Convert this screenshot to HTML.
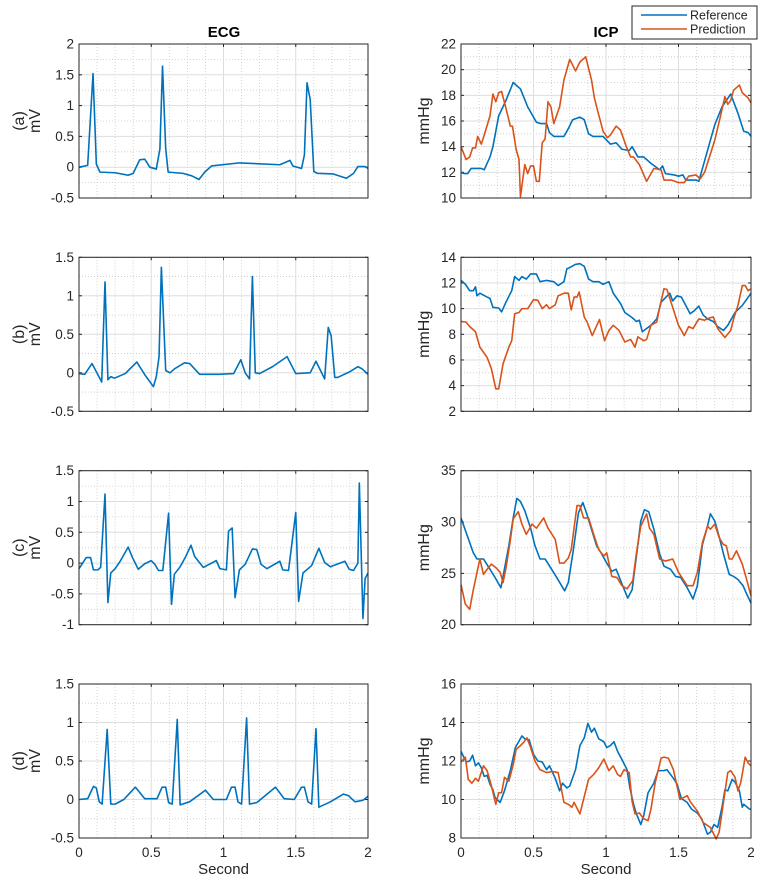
<!DOCTYPE html>
<html><head><meta charset="utf-8"><style>
html,body{margin:0;padding:0;background:#fff;}
svg{display:block;font-family:"Liberation Sans",Arial,sans-serif;}
</style></head><body>
<svg id="fig" width="769" height="884" viewBox="0 0 769 884" xmlns="http://www.w3.org/2000/svg"></svg>
<script>
// ---------- data ----------
const xTickLabels = ["0","0.5","1","1.5","2"];
const xTickValues = [0,0.5,1,1.5,2];

const ecgATime = [0,0.06,0.097,0.12,0.145,0.25,0.34,0.375,0.42,0.455,0.49,0.535,0.56,0.578,0.6,0.617,0.72,0.78,0.83,0.87,0.917,1.11,1.39,1.46,1.48,1.54,1.56,1.578,1.6,1.625,1.65,1.76,1.85,1.9,1.93,1.98,2];
const ecgAVal  = [0,0.03,1.52,0.05,-0.08,-0.09,-0.13,-0.1,0.12,0.13,0.0,-0.03,0.3,1.64,0.3,-0.08,-0.1,-0.14,-0.2,-0.08,0.02,0.07,0.04,0.11,0.02,-0.02,0.2,1.37,1.1,-0.07,-0.1,-0.11,-0.18,-0.1,0.01,0.01,-0.02];

const ecgBTime = [0,0.04,0.09,0.127,0.157,0.18,0.2,0.22,0.245,0.32,0.4,0.457,0.515,0.535,0.554,0.57,0.6,0.63,0.66,0.73,0.766,0.835,0.89,0.97,1.07,1.12,1.15,1.18,1.2,1.22,1.25,1.34,1.44,1.5,1.6,1.64,1.7,1.725,1.745,1.77,1.79,1.87,1.93,1.96,2];
const ecgBVal  = [-0.01,-0.02,0.12,-0.01,-0.12,1.18,-0.09,-0.05,-0.07,-0.01,0.14,-0.03,-0.18,-0.05,0.21,1.37,0.03,0,0.05,0.13,0.12,-0.02,-0.02,-0.02,-0.01,0.17,0,-0.08,1.25,0,-0.01,0.08,0.21,-0.01,0,0.15,-0.08,0.59,0.48,-0.06,-0.06,0.01,0.08,0.05,-0.02];

const ecgCTime = [0.0,0.05,0.08,0.1,0.13,0.15,0.18,0.2,0.22,0.25,0.285,0.34,0.37,0.41,0.455,0.5,0.525,0.55,0.58,0.62,0.64,0.66,0.7,0.735,0.775,0.8,0.86,0.95,0.975,1.02,1.035,1.06,1.08,1.11,1.15,1.2,1.23,1.26,1.3,1.39,1.41,1.45,1.5,1.52,1.55,1.61,1.66,1.7,1.74,1.84,1.87,1.9,1.93,1.94,1.965,1.98,2];
const ecgCVal  = [-0.09,0.09,0.09,-0.11,-0.11,-0.07,1.12,-0.64,-0.16,-0.09,0.03,0.26,0.09,-0.1,-0.01,0.04,-0.02,-0.12,-0.12,0.81,-0.67,-0.18,-0.06,0.09,0.29,0.11,-0.07,0.04,-0.09,-0.11,0.52,0.57,-0.56,-0.11,-0.02,0.23,0.22,-0.02,-0.09,0.03,-0.11,-0.12,0.82,-0.62,-0.16,-0.04,0.24,0.01,-0.06,0.03,-0.1,-0.12,0,1.3,-0.9,-0.25,-0.16];

const ecgDTime = [0,0.06,0.1,0.12,0.14,0.16,0.195,0.22,0.25,0.31,0.39,0.455,0.54,0.575,0.6,0.62,0.645,0.68,0.7,0.765,0.875,0.93,1.02,1.055,1.08,1.1,1.125,1.16,1.18,1.23,1.36,1.42,1.49,1.54,1.56,1.585,1.61,1.64,1.66,1.74,1.83,1.865,1.91,1.965,2];
const ecgDVal  = [0,0.01,0.17,0.15,-0.03,-0.06,0.91,-0.06,-0.06,0,0.16,0.01,0.01,0.16,0.16,-0.04,-0.06,1.04,-0.07,-0.03,0.12,0,0,0.16,0.16,-0.03,-0.06,1.06,-0.06,-0.04,0.16,0.01,0,0.16,0.16,-0.03,-0.06,0.92,-0.1,-0.03,0.07,0.05,-0.03,-0.01,0.04];

const icpARefTime = [0,0.023,0.046,0.07,0.14,0.16,0.2,0.22,0.26,0.31,0.36,0.39,0.41,0.46,0.52,0.55,0.59,0.61,0.64,0.71,0.74,0.77,0.82,0.85,0.88,0.91,0.98,1.03,1.07,1.11,1.16,1.18,1.22,1.26,1.31,1.37,1.39,1.41,1.47,1.5,1.53,1.55,1.62,1.64,1.68,1.75,1.8,1.86,1.91,1.95,1.98,2];
const icpARefVal  = [12.0,11.9,11.9,12.3,12.3,12.2,13.2,14.0,16.4,17.6,19.0,18.7,18.5,17.1,15.9,15.8,15.8,15.1,14.8,14.8,15.4,16.1,16.3,16.1,15.0,14.8,14.8,14.2,14.3,13.8,13.7,14.0,13.2,13.2,12.7,12.2,12.5,11.9,11.8,11.7,11.8,11.4,11.4,11.3,12.9,15.7,17.1,18.1,16.6,15.2,15.1,14.8];
const icpAPredTime = [0,0.035,0.06,0.08,0.1,0.115,0.14,0.16,0.2,0.22,0.24,0.26,0.28,0.31,0.34,0.355,0.38,0.4,0.41,0.44,0.46,0.48,0.5,0.52,0.54,0.56,0.58,0.6,0.62,0.64,0.68,0.71,0.75,0.79,0.82,0.86,0.9,0.92,0.94,0.98,1.01,1.03,1.07,1.1,1.14,1.17,1.19,1.23,1.28,1.31,1.33,1.38,1.4,1.45,1.5,1.54,1.57,1.62,1.65,1.68,1.75,1.79,1.82,1.84,1.86,1.88,1.92,1.94,1.98,2];
const icpAPredVal  = [14.0,13.0,13.2,13.9,13.9,14.8,14.2,14.9,16.4,18.1,17.5,18.2,18.3,17.0,15.6,15.6,13.8,13.0,10.1,12.6,11.9,12.5,12.5,11.3,11.3,14.3,14.6,17.5,17.1,15.8,17.1,19.2,20.8,19.9,20.6,21.0,19.2,17.8,16.9,15.2,14.7,14.9,15.6,15.3,14.0,13.2,13.2,12.6,11.3,11.9,12.3,12.2,11.4,11.4,11.2,11.2,11.7,11.8,11.5,12.0,14.5,16.4,17.9,17.3,17.6,18.4,18.8,18.2,17.8,17.4];

const icpBRefTime = [0,0.03,0.06,0.085,0.1,0.11,0.13,0.18,0.2,0.22,0.26,0.28,0.31,0.35,0.37,0.4,0.42,0.45,0.48,0.52,0.545,0.59,0.64,0.67,0.71,0.73,0.75,0.79,0.82,0.85,0.88,0.91,0.95,0.98,1.02,1.05,1.1,1.13,1.18,1.21,1.23,1.25,1.28,1.31,1.35,1.38,1.44,1.46,1.49,1.52,1.55,1.58,1.61,1.64,1.67,1.7,1.74,1.77,1.81,1.84,1.89,1.94,2];
const icpBRefVal  = [12.2,11.9,11.4,11.4,11.7,11.0,11.2,10.9,10.8,10.1,10.05,9.75,10.5,11.4,12.5,12.2,12.5,12.3,12.7,12.7,12.1,12.2,12.1,11.8,12.1,13.1,13.2,13.45,13.5,13.3,12.3,12.1,12.1,11.9,12.1,11.2,10.4,9.7,9.3,9.0,9.1,8.2,8.45,8.7,9.2,10.5,11.2,10.6,11.0,10.9,10.25,9.6,9.85,10.2,9.5,9.2,9.0,8.6,8.3,8.7,9.7,10.25,11.2];
const icpBPredTime = [0,0.035,0.06,0.1,0.13,0.18,0.21,0.24,0.26,0.29,0.33,0.35,0.37,0.4,0.42,0.46,0.5,0.53,0.56,0.59,0.61,0.65,0.67,0.71,0.74,0.76,0.78,0.8,0.815,0.85,0.87,0.905,0.955,0.99,1.02,1.05,1.09,1.13,1.17,1.2,1.22,1.26,1.28,1.31,1.35,1.37,1.4,1.42,1.46,1.5,1.54,1.57,1.6,1.64,1.68,1.72,1.74,1.77,1.82,1.86,1.88,1.91,1.94,1.96,1.98,2];
const icpBPredVal  = [9.0,8.95,8.6,8.2,7.0,6.2,5.3,3.75,3.75,5.7,7.0,7.5,9.6,9.7,10.0,10.0,10.7,10.65,10.0,10.3,10.0,10.3,11.0,11.2,11.2,9.9,10.9,10.9,11.3,9.35,8.95,7.9,9.15,7.5,8.3,8.7,8.3,7.4,7.6,7.0,7.8,7.5,7.6,8.7,8.95,10.1,11.55,11.5,10.1,8.7,7.9,8.6,8.45,9.2,9.1,9.3,9.35,8.45,7.75,8.3,9.2,10.25,11.8,11.8,11.4,11.55];

const icpCRefTime = [0,0.04,0.085,0.11,0.155,0.2,0.235,0.275,0.29,0.33,0.36,0.385,0.41,0.44,0.48,0.51,0.545,0.58,0.625,0.66,0.715,0.74,0.775,0.81,0.84,0.865,0.9,0.935,0.97,1.005,1.04,1.07,1.115,1.15,1.18,1.21,1.24,1.265,1.295,1.33,1.37,1.4,1.445,1.48,1.515,1.56,1.6,1.63,1.665,1.7,1.72,1.75,1.78,1.81,1.85,1.88,1.91,1.945,1.97,2];
const icpCRefVal  = [30.4,28.8,27.0,26.4,26.4,25.4,24.6,23.6,24.7,27.7,30.4,32.3,32.0,31.1,29.4,27.7,26.4,26.4,25.4,24.6,23.3,24.1,27.3,30.9,31.9,30.9,29.3,27.7,26.9,26.0,25.2,25.4,23.8,22.6,23.4,26.7,30.1,31.2,31.0,29.3,26.9,25.7,25.4,24.7,24.6,23.6,22.5,23.8,27.8,29.6,30.8,30.1,28.6,26.9,24.9,24.7,24.4,23.8,23.0,22.1];
const icpCPredTime = [0,0.03,0.06,0.085,0.13,0.155,0.18,0.21,0.245,0.27,0.29,0.31,0.34,0.36,0.395,0.42,0.45,0.49,0.52,0.57,0.6,0.65,0.68,0.71,0.74,0.76,0.8,0.82,0.845,0.88,0.915,0.95,0.985,1.005,1.04,1.075,1.11,1.145,1.185,1.21,1.24,1.28,1.3,1.33,1.37,1.41,1.46,1.5,1.56,1.6,1.63,1.665,1.7,1.72,1.75,1.78,1.81,1.83,1.85,1.87,1.9,1.94,1.97,2];
const icpCPredVal  = [23.9,22.0,21.5,23.4,26.4,24.9,25.4,25.9,25.5,25.1,24.1,25.5,28.2,30.3,31.0,29.8,28.8,29.8,29.4,30.4,29.4,28.3,26.0,26.0,26.5,27.3,31.6,31.6,30.4,30.4,28.8,27.3,26.7,27.0,24.7,24.6,23.8,23.5,24.3,27.0,29.6,30.8,29.4,28.8,26.4,26.2,26.4,25.1,23.8,23.8,25.1,28.0,29.6,29.3,29.8,28.5,27.8,27.7,26.4,26.4,27.2,25.9,24.4,22.8];

const icpDRefTime = [0,0.035,0.06,0.08,0.1,0.12,0.14,0.16,0.18,0.2,0.22,0.235,0.27,0.3,0.34,0.375,0.42,0.44,0.47,0.5,0.53,0.56,0.59,0.61,0.65,0.68,0.7,0.73,0.75,0.79,0.82,0.85,0.875,0.9,0.92,0.95,0.985,1.005,1.03,1.055,1.08,1.115,1.145,1.165,1.19,1.21,1.24,1.26,1.29,1.33,1.36,1.4,1.42,1.465,1.49,1.52,1.56,1.59,1.63,1.66,1.7,1.72,1.745,1.77,1.8,1.82,1.84,1.87,1.89,1.92,1.94,1.95,1.99,2];
const icpDRefVal  = [12.5,11.95,12.0,12.3,11.75,11.9,11.65,11.2,11.25,10.8,10.5,10.1,9.85,10.45,11.5,12.7,13.3,13.15,13.1,12.35,12.0,11.95,11.55,11.75,11.1,10.45,10.85,10.6,10.7,11.55,12.8,13.2,13.95,13.5,13.7,13.15,13.0,12.7,12.8,13.0,12.5,12.0,11.55,10.6,9.75,9.25,8.7,9.15,10.35,10.85,11.5,11.5,11.55,11.1,10.8,10.05,9.85,9.5,9.3,9.0,8.2,8.3,8.7,8.55,9.6,10.5,10.45,11.05,10.9,10.45,9.6,9.75,9.5,9.5];
const icpDPredTime = [0,0.03,0.05,0.075,0.1,0.12,0.155,0.18,0.21,0.24,0.26,0.28,0.3,0.33,0.36,0.38,0.41,0.43,0.455,0.48,0.51,0.545,0.59,0.63,0.67,0.71,0.74,0.765,0.78,0.82,0.845,0.88,0.915,0.95,0.985,1.02,1.05,1.08,1.1,1.125,1.16,1.18,1.2,1.23,1.26,1.29,1.31,1.34,1.38,1.4,1.43,1.465,1.51,1.56,1.58,1.63,1.67,1.72,1.76,1.78,1.81,1.84,1.86,1.89,1.91,1.93,1.96,1.98,2];
const icpDPredVal  = [11.95,12.2,11.05,10.85,11.1,10.95,11.75,11.5,10.7,9.75,10.35,10.35,11.15,10.95,11.8,12.6,12.8,12.95,13.2,12.7,12.0,11.55,11.4,11.45,11.4,9.85,9.75,9.6,9.85,9.25,10.0,11.05,11.3,11.65,12.1,11.5,11.75,11.3,11.2,11.55,11.4,9.9,9.25,9.3,9.0,8.9,9.5,10.9,12.15,12.2,12.15,11.55,10.0,10.2,9.9,9.4,8.8,8.55,7.95,8.3,9.85,11.4,11.5,11.15,10.45,10.9,12.2,11.9,11.75];

// y-axis ranges / ticks
const ecgARange = [-0.5,2],  ecgATicks = [-0.5,0,0.5,1,1.5,2];
const ecgBRange = [-0.5,1.5], ecgBTicks = [-0.5,0,0.5,1,1.5];
const ecgCRange = [-1,1.5],  ecgCTicks = [-1,-0.5,0,0.5,1,1.5];
const ecgDRange = [-0.5,1.5], ecgDTicks = [-0.5,0,0.5,1,1.5];
const icpARange = [10,22], icpATicks = [10,12,14,16,18,20,22];
const icpBRange = [2,14],  icpBTicks = [2,4,6,8,10,12,14];
const icpCRange = [20,35], icpCTicks = [20,25,30,35];
const icpDRange = [8,16],  icpDTicks = [8,10,12,14,16];

// ---------- drawing ----------
const NS = "http://www.w3.org/2000/svg";
const svg = document.getElementById("fig");
const BLUE = "#0072BD", ORANGE = "#D95319", DARK = "#262626";
function mk(tag, attrs, parent){
  const e = document.createElementNS(NS, tag);
  for (const k in attrs) e.setAttribute(k, attrs[k]);
  (parent||svg).appendChild(e);
  return e;
}
function fmt(v){ return String(Math.round(v*1000)/1000); }

const rowTops = [44, 257.3, 470.7, 684];
const PH = 154;
const letters = ["a","b","c","d"];

function drawPanel(name, x0, w, top, yRange, yTicks, series, ylabelLines, showX){
  const g = mk("g", {});
  
  
  const xs = t => x0 + (t/2)*w;
  const ys = v => top + PH - (v - yRange[0])/(yRange[1]-yRange[0])*PH;
  // minor vertical grid
  for (let i=0;i<=16;i++){
    if (i%4===0) continue;
    const x = xs(i*0.125);
    const l = mk("line",{x1:x,y1:top,x2:x,y2:top+PH,stroke:"#c8c8c8","stroke-width":0.8,"stroke-dasharray":"1,2"},g);
    
    
  }
  // minor horizontal grid
  for (let i=0;i<yTicks.length-1;i++){
    const v=(yTicks[i]+yTicks[i+1])/2, y=ys(v);
    const l = mk("line",{x1:x0,y1:y,x2:x0+w,y2:y,stroke:"#c8c8c8","stroke-width":0.8,"stroke-dasharray":"1,2"},g);
    
    
  }
  // major grid
  xTickValues.forEach(t=>{
    const x=xs(t);
    const l=mk("line",{x1:x,y1:top,x2:x,y2:top+PH,stroke:"#dedede","stroke-width":1},g);
    
    
    mk("line",{x1:x,y1:top+PH,x2:x,y2:top+PH-3,stroke:DARK,"stroke-width":1},g);
    mk("line",{x1:x,y1:top,x2:x,y2:top+3,stroke:DARK,"stroke-width":1},g);
  });
  yTicks.forEach(v=>{
    const y=ys(v);
    const l=mk("line",{x1:x0,y1:y,x2:x0+w,y2:y,stroke:"#dedede","stroke-width":1},g);
    
    
    mk("line",{x1:x0,y1:y,x2:x0+3,y2:y,stroke:DARK,"stroke-width":1},g);
    mk("line",{x1:x0+w,y1:y,x2:x0+w-3,y2:y,stroke:DARK,"stroke-width":1},g);
    const tx=mk("text",{x:x0-5,y:y+4.5,"text-anchor":"end","font-size":13.5,fill:DARK},g);
    tx.textContent=fmt(v);
    
    
  });
  if (showX){
    xTickValues.forEach((t,i)=>{
      const tx=mk("text",{x:xs(t),y:top+PH+19,"text-anchor":"middle","font-size":13.5,fill:DARK},g);
      tx.textContent=xTickLabels[i];
      
      
    });
    const xl=mk("text",{x:x0+w/2,y:top+PH+36,"text-anchor":"middle","font-size":15,fill:DARK},g);
    xl.textContent="Second";
    
    
  }
  // series
  series.forEach(s=>{
    let d="";
    s.t.forEach((t,i)=>{ d += (i?"L":"M") + xs(t).toFixed(2) + "," + ys(s.v[i]).toFixed(2); });
    const p=mk("path",{d:d,fill:"none",stroke:s.color,"stroke-width":1.6,"stroke-linejoin":"round"},g);
    
    
  });
  // box
  const b=mk("rect",{x:x0,y:top,width:w,height:PH,fill:"none",stroke:DARK,"stroke-width":1},g);
  
  
  // y label
  const cy = top+PH/2;
  ylabelLines.forEach((ln,i)=>{
    const lx = ylabelLines.length===2 ? (ln.x) : ln.x;
    const tx=mk("text",{x:lx,y:cy,"text-anchor":"middle","font-size":16,fill:DARK,transform:"rotate(-90 "+lx+" "+cy+")"},g);
    tx.textContent=ln.s;
    
    
  });
}

const ecgT=[ecgATime,ecgBTime,ecgCTime,ecgDTime], ecgV=[ecgAVal,ecgBVal,ecgCVal,ecgDVal];
const ecgR=[ecgARange,ecgBRange,ecgCRange,ecgDRange], ecgK=[ecgATicks,ecgBTicks,ecgCTicks,ecgDTicks];
const icpRT=[icpARefTime,icpBRefTime,icpCRefTime,icpDRefTime], icpRV=[icpARefVal,icpBRefVal,icpCRefVal,icpDRefVal];
const icpPT=[icpAPredTime,icpBPredTime,icpCPredTime,icpDPredTime], icpPV=[icpAPredVal,icpBPredVal,icpCPredVal,icpDPredVal];
const icpR=[icpARange,icpBRange,icpCRange,icpDRange], icpK=[icpATicks,icpBTicks,icpCTicks,icpDTicks];

for (let r=0;r<4;r++){
  drawPanel("ecg-"+letters[r], 79, 289, rowTops[r], ecgR[r], ecgK[r],
    [{t:ecgT[r],v:ecgV[r],color:BLUE,name:"ecg-line-"+letters[r]}],
    [{s:"("+letters[r]+")",x:24},{s:"mV",x:40}], r===3);
  drawPanel("icp-"+letters[r], 461, 290, rowTops[r], icpR[r], icpK[r],
    [{t:icpRT[r],v:icpRV[r],color:BLUE,name:"icp-reference-line-"+letters[r]},
     {t:icpPT[r],v:icpPV[r],color:ORANGE,name:"icp-prediction-line-"+letters[r]}],
    [{s:"mmHg",x:429}], r===3);
}

// titles
let t1=mk("text",{x:224,y:37,"text-anchor":"middle","font-size":15,"font-weight":"bold",fill:"#000"});
t1.textContent="ECG";


let t2=mk("text",{x:606,y:37,"text-anchor":"middle","font-size":15,"font-weight":"bold",fill:"#000"});
t2.textContent="ICP";



// legend
const lg=mk("g",{});


mk("rect",{x:632,y:6,width:125,height:33,fill:"#fff",stroke:DARK,"stroke-width":1},lg);
const legNames=["Reference","Prediction"], legColors=[BLUE,ORANGE];
legNames.forEach((n,i)=>{
  const y=15+i*14;
  const ln=mk("line",{x1:641,y1:y,x2:687,y2:y,stroke:legColors[i],"stroke-width":1.6},lg);
  
  
  const tx=mk("text",{x:690,y:y+4.5,"font-size":12.5,fill:DARK},lg);
  tx.textContent=n;
  
  
});
</script>
</body></html>
